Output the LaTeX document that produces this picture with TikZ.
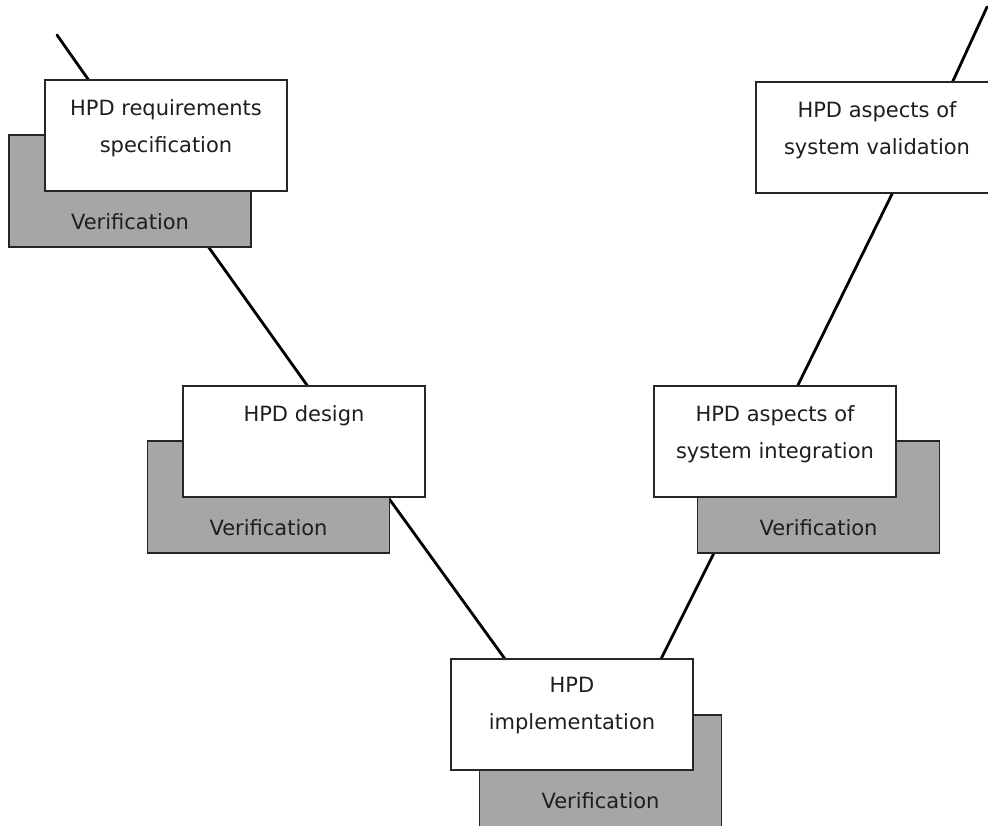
\documentclass[tikz,border=0pt]{standalone}
\usepackage{fontspec}
\setmainfont{DejaVu Sans}
\usetikzlibrary{backgrounds}
\definecolor{vgray}{RGB}{166,166,166}
\definecolor{txt}{RGB}{30,30,30}
\begin{document}
\begin{tikzpicture}[x=1pt,y=-1pt,
  whitebox/.style={draw=black!85,line width=1.4pt,fill=white,minimum width=242pt,minimum height=111pt,inner sep=0pt},
  graybox/.style={draw=black!85,line width=1.4pt,fill=vgray,minimum width=242pt,minimum height=112pt,inner sep=0pt},
  label/.style={anchor=north,inner sep=0pt,align=center,text=txt,font=\fontsize{21}{37}\selectfont},
  vlabel/.style={anchor=base,inner sep=0pt,text=txt,font=\fontsize{21}{25}\selectfont},
  conn/.style={line width=2.8pt,line cap=round}]
\useasboundingbox (0,0) rectangle (988,825);
% gray verification boxes
\node[graybox] (reqv) at (130,191) {};
\node[graybox] (desv) at (268.5,497) {};
\node[graybox] (impv) at (600.5,771) {};
\node[graybox] (intv) at (818.5,497) {};
% white boxes
\node[whitebox] (reqw) at (166,135.5) {};
\node[whitebox] (desw) at (304,441.5) {};
\node[whitebox] (impw) at (572,714.5) {};
\node[whitebox] (intw) at (775,441.5) {};
\node[whitebox] (valw) at (877,137.5) {};
% texts
\node[label] (reqt) at (166,99) {HPD requirements\\specification};
\node[label] (dest) at (304,405) {HPD design};
\node[label] (impt) at (572,677) {HPD\\implementation};
\node[label] (intt) at (775,405) {HPD aspects of\\system integration};
\node[label] (valt) at (877,101) {HPD aspects of\\system validation};
\node[vlabel] (reqvt) at (130,229) {Verification};
\node[vlabel] (desvt) at (268.5,535) {Verification};
\node[vlabel] (impvt) at (600.5,808) {Verification};
\node[vlabel] (intvt) at (818.5,535) {Verification};
% connector points on box edges
\coordinate (tl) at (57,35);
\coordinate (tr) at (987,7);
\coordinate (reqin) at (88.6,80);
\coordinate (reqout) at (208.5,247);
\coordinate (desin) at (307.6,386);
\coordinate (desout) at (390,500);
\coordinate (impin) at (505,659);
\coordinate (impin2) at (661,659);
\coordinate (intout) at (714,553);
\coordinate (intin) at (797.5,386);
\coordinate (valout) at (892.5,193);
\coordinate (valin) at (952.5,82);
\begin{scope}[on background layer]
\draw[conn] (tl) -- (reqin) -- (reqout) -- (desin) -- (desout) -- (impin);
\draw[conn] (impin2) -- (intout) -- (intin) -- (valout) -- (valin) -- (tr);
\end{scope}
\end{tikzpicture}
\end{document}
